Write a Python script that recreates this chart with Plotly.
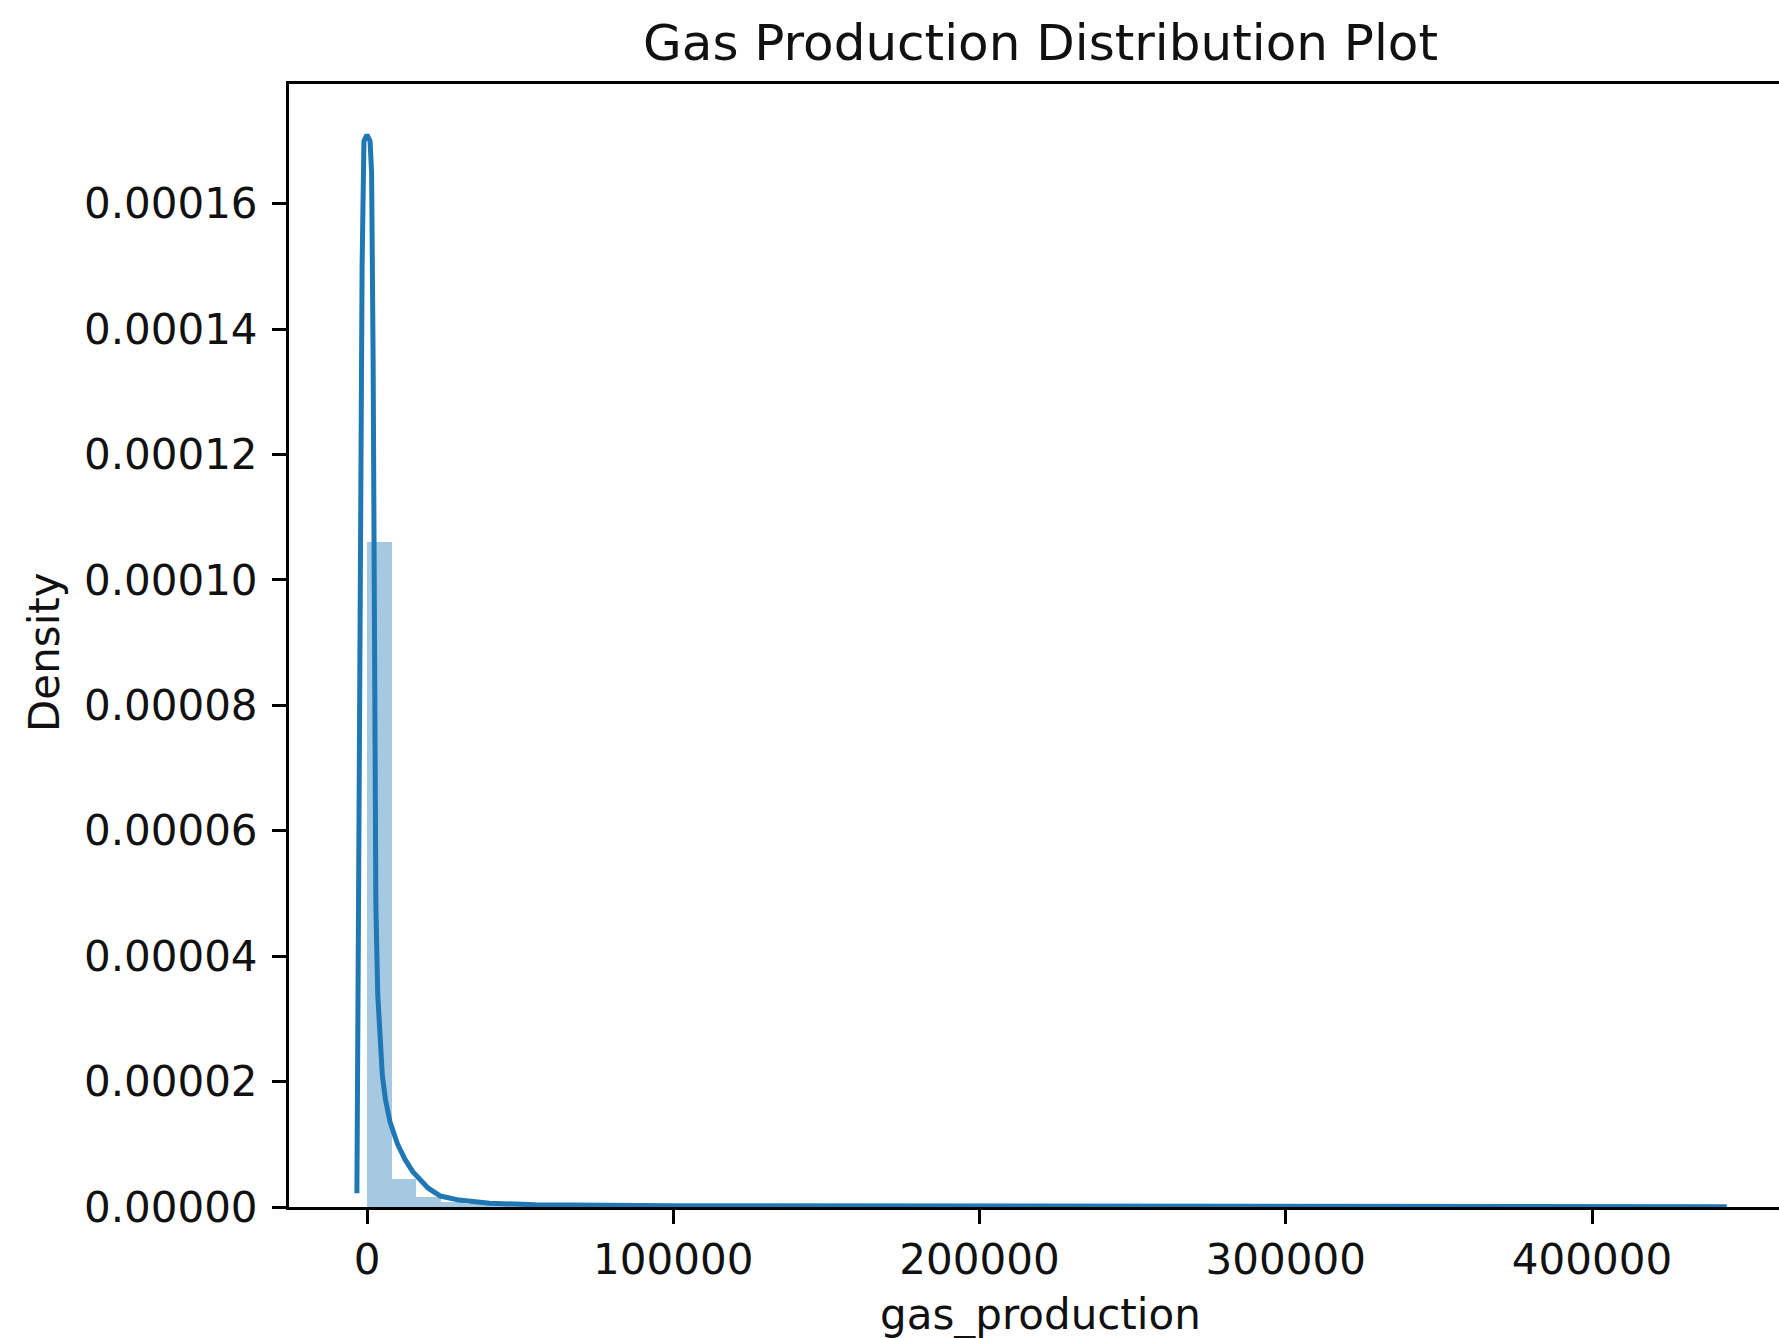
import plotly.graph_objects as go

# ---- data ----
bin_start = 0.0
bin_width = 8000.0
hist_density = [1.06e-4, 4.5e-6, 1.6e-6, 8e-7, 5e-7, 3e-7, 2e-7, 1.5e-7, 1.2e-7, 1e-7,
                8e-8, 7e-8, 6e-8, 5e-8, 5e-8, 4e-8, 4e-8, 3e-8, 3e-8, 3e-8,
                2e-8, 2e-8, 2e-8, 2e-8, 2e-8, 1e-8, 1e-8, 1e-8, 1e-8, 1e-8,
                1e-8, 1e-8, 1e-8, 1e-8, 1e-8, 1e-8, 1e-8, 1e-8, 1e-8, 1e-8,
                1e-8, 1e-8, 1e-8, 1e-8, 1e-8, 1e-8, 1e-8, 1e-8, 1e-8, 1e-8,
                1e-8, 1e-8, 1e-8, 1e-8, 1e-8]

kde_x = [-3300, -3000, -2300, -1600, -1000, 0, 1000, 1500, 2000, 2400, 2900, 3500,
         4200, 5000, 6000, 7500, 10000, 12500, 15000, 17500, 20000, 24000, 30000,
         40000, 55000, 100000, 200000, 300000, 444000]
kde_y = [2.2e-6, 3.0e-5, 9.0e-5, 1.5e-4, 1.70e-4, 1.71e-4, 1.70e-4, 1.65e-4, 1.35e-4,
         8.0e-5, 4.8e-5, 3.4e-5, 2.6e-5, 2.1e-5, 1.72e-5, 1.36e-5, 1.0e-5, 7.5e-6,
         5.6e-6, 4.2e-6, 3.0e-6, 1.75e-6, 1.1e-6, 6e-7, 3.5e-7, 2e-7, 1e-7, 6e-8, 3e-8]

x_ticks = [0, 100000, 200000, 300000, 400000]
y_ticks = [0, 0.00002, 0.00004, 0.00006, 0.00008, 0.00010, 0.00012, 0.00014, 0.00016]

title_text = "Gas Production Distribution Plot"
x_label = "gas_production"
y_label = "Density"

# ---- figure ----
centers = [bin_start + bin_width * (i + 0.5) for i in range(len(hist_density))]

fig = go.Figure()
fig.add_trace(go.Bar(
    x=centers, y=hist_density, width=bin_width,
    marker=dict(color="rgba(31,119,180,0.4)", line=dict(width=0)),
    showlegend=False, hoverinfo="skip"))
fig.add_trace(go.Scatter(
    x=kde_x, y=kde_y, mode="lines",
    line=dict(color="#1f77b4", width=5),
    showlegend=False, hoverinfo="skip"))

font = "DejaVu Sans"
fig.update_layout(
    width=1779, height=1338,
    margin=dict(l=289, r=0, t=84, b=131, pad=0),
    paper_bgcolor="white", plot_bgcolor="white",
    bargap=0,
    font=dict(family=font, size=42, color="black"),
    xaxis=dict(
        range=[-25470, 461060], tickvals=x_ticks,
        ticktext=[str(v) for v in x_ticks],
        showgrid=False, zeroline=False,
        showline=True, linecolor="black", linewidth=3, mirror=True,
        ticks="outside", ticklen=14, tickwidth=3, tickcolor="black",
        tickfont=dict(family=font, size=42, color="#111"),
    ),
    yaxis=dict(
        range=[0, 0.0001791], tickvals=y_ticks,
        ticktext=[f"{v:.5f}" for v in y_ticks],
        showgrid=False, zeroline=False,
        showline=True, linecolor="black", linewidth=3,
        ticks="outside", ticklen=14, tickwidth=3, tickcolor="black",
        ticklabelstandoff=6,
        tickfont=dict(family=font, size=42, color="#111"),
    ),
)

H_plot = 1338 - 84 - 131
W_plot = 1779 - 289
def px_to_paper_x(px):
    return (px - 289) / W_plot
def px_to_paper_y(py):
    return (1338 - 131 - py) / H_plot

fig.add_annotation(text=title_text, x=px_to_paper_x(1040), y=px_to_paper_y(43),
                   xref="paper", yref="paper", showarrow=False,
                   font=dict(family=font, size=50, color="#111"),
                   xanchor="center", yanchor="middle")
fig.add_annotation(text=x_label, x=px_to_paper_x(1040), y=px_to_paper_y(1314),
                   xref="paper", yref="paper", showarrow=False,
                   font=dict(family=font, size=42, color="#111"),
                   xanchor="center", yanchor="middle")
fig.add_annotation(text=y_label, x=px_to_paper_x(45), y=px_to_paper_y(652),
                   xref="paper", yref="paper", showarrow=False, textangle=-90,
                   font=dict(family=font, size=42, color="#111"),
                   xanchor="center", yanchor="middle")

fig.write_html("out.html")
